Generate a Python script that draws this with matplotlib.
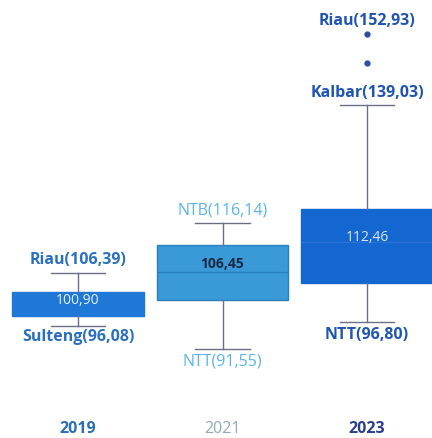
import matplotlib
matplotlib.use("Agg")
import matplotlib.pyplot as plt
from matplotlib.transforms import blended_transform_factory

# box statistics (scale estimated from labelled whiskers)
years = ["2019", "2021", "2023"]
q1 = [97.95, 101.07, 104.39]
q3 = [102.57, 111.79, 118.81]
med = [100.90, 106.45, 112.46]
whis_lo = [96.08, 91.55, 96.80]
whis_hi = [106.39, 116.14, 139.03]
outliers = [[], [], [152.93, 147.2]]

med_text = ["100,90", "106,45", "112,46"]
hi_text = ["Riau(106,39)", "NTB(116,14)", "Kalbar(139,03)"]
lo_text = ["Sulteng(96,08)", "NTT(91,55)", "NTT(96,80)"]
out_text = "Riau(152,93)"

box_colors = ["#1f78d8", "#3a9ad8", "#1466d0"]
edge_colors = ["#1f78d8", "#2a7fc0", "#1466d0"]
label_colors = ["#2a6fc0", "#5ab4e6", "#1f55b0"]
year_colors = ["#2a6fb5", "#8fa9b8", "#2a3f8f"]
med_colors = ["#e8f2ff", "#1a2a44", "#d8e6ff"]
label_weights = ["bold", "normal", "bold"]

fig = plt.figure(figsize=(4.32, 4.38), dpi=100)
ax = fig.add_axes([0, 0, 1, 1])

stats = []
for i in range(3):
    stats.append({"q1": q1[i], "q3": q3[i], "med": med[i],
                  "whislo": whis_lo[i], "whishi": whis_hi[i],
                  "fliers": outliers[i]})

bp = ax.bxp(stats, positions=[0, 1, 2], widths=0.91, patch_artist=True,
            showfliers=True,
            whiskerprops=dict(color="#6b6f86", lw=1.0),
            capprops=dict(color="#6b6f86", lw=1.0),
            flierprops=dict(marker="o", markersize=3.5, markerfacecolor="#2a4fa0",
                            markeredgecolor="#2a4fa0"))
for i, b in enumerate(bp["boxes"]):
    b.set_facecolor(box_colors[i])
    b.set_edgecolor(edge_colors[i])
for i, m in enumerate(bp["medians"]):
    m.set_color(["#1f78d8", "#2a7fc0", "#2a72d8"][i])
    m.set_linewidth(1.0)
for c in bp["caps"]:
    xs = c.get_xdata()
    mid = (xs[0] + xs[1]) / 2
    c.set_xdata([mid - 0.19, mid + 0.19])

ax.set_xlim(-0.54, 2.45)
ax.set_ylim(74.17, 159.55)
ax.axis("off")

fs = 11.5
lo_gap = [0.7, 0.9, 0.9]
for i in range(3):
    dy = [0, 1.7, 0.8][i]
    ax.text(i, med[i] + dy, med_text[i], ha="center", va="center", fontsize=10,
            color=med_colors[i], fontweight="bold" if i == 1 else "normal",
            family="Open Sans")
    ax.text(i, whis_hi[i] + 0.9, hi_text[i], ha="center", va="bottom", fontsize=fs,
            color=label_colors[i], fontweight=label_weights[i], family="Open Sans")
    ax.text(i, whis_lo[i] - lo_gap[i], lo_text[i], ha="center", va="top", fontsize=fs,
            color=label_colors[i], fontweight=label_weights[i], family="Open Sans")

ax.text(2, outliers[2][0] + 1.0, out_text, ha="center", va="bottom", fontsize=fs,
        color=label_colors[2], fontweight="bold", family="Open Sans")

trans = blended_transform_factory(ax.transData, ax.transAxes)
for i, y in enumerate(years):
    ax.text(i, 0.02, y, transform=trans, ha="center", va="center", fontsize=fs,
            color=year_colors[i], fontweight="bold" if i != 1 else "normal",
            family="Open Sans")

fig.savefig("out.png", dpi=100)
